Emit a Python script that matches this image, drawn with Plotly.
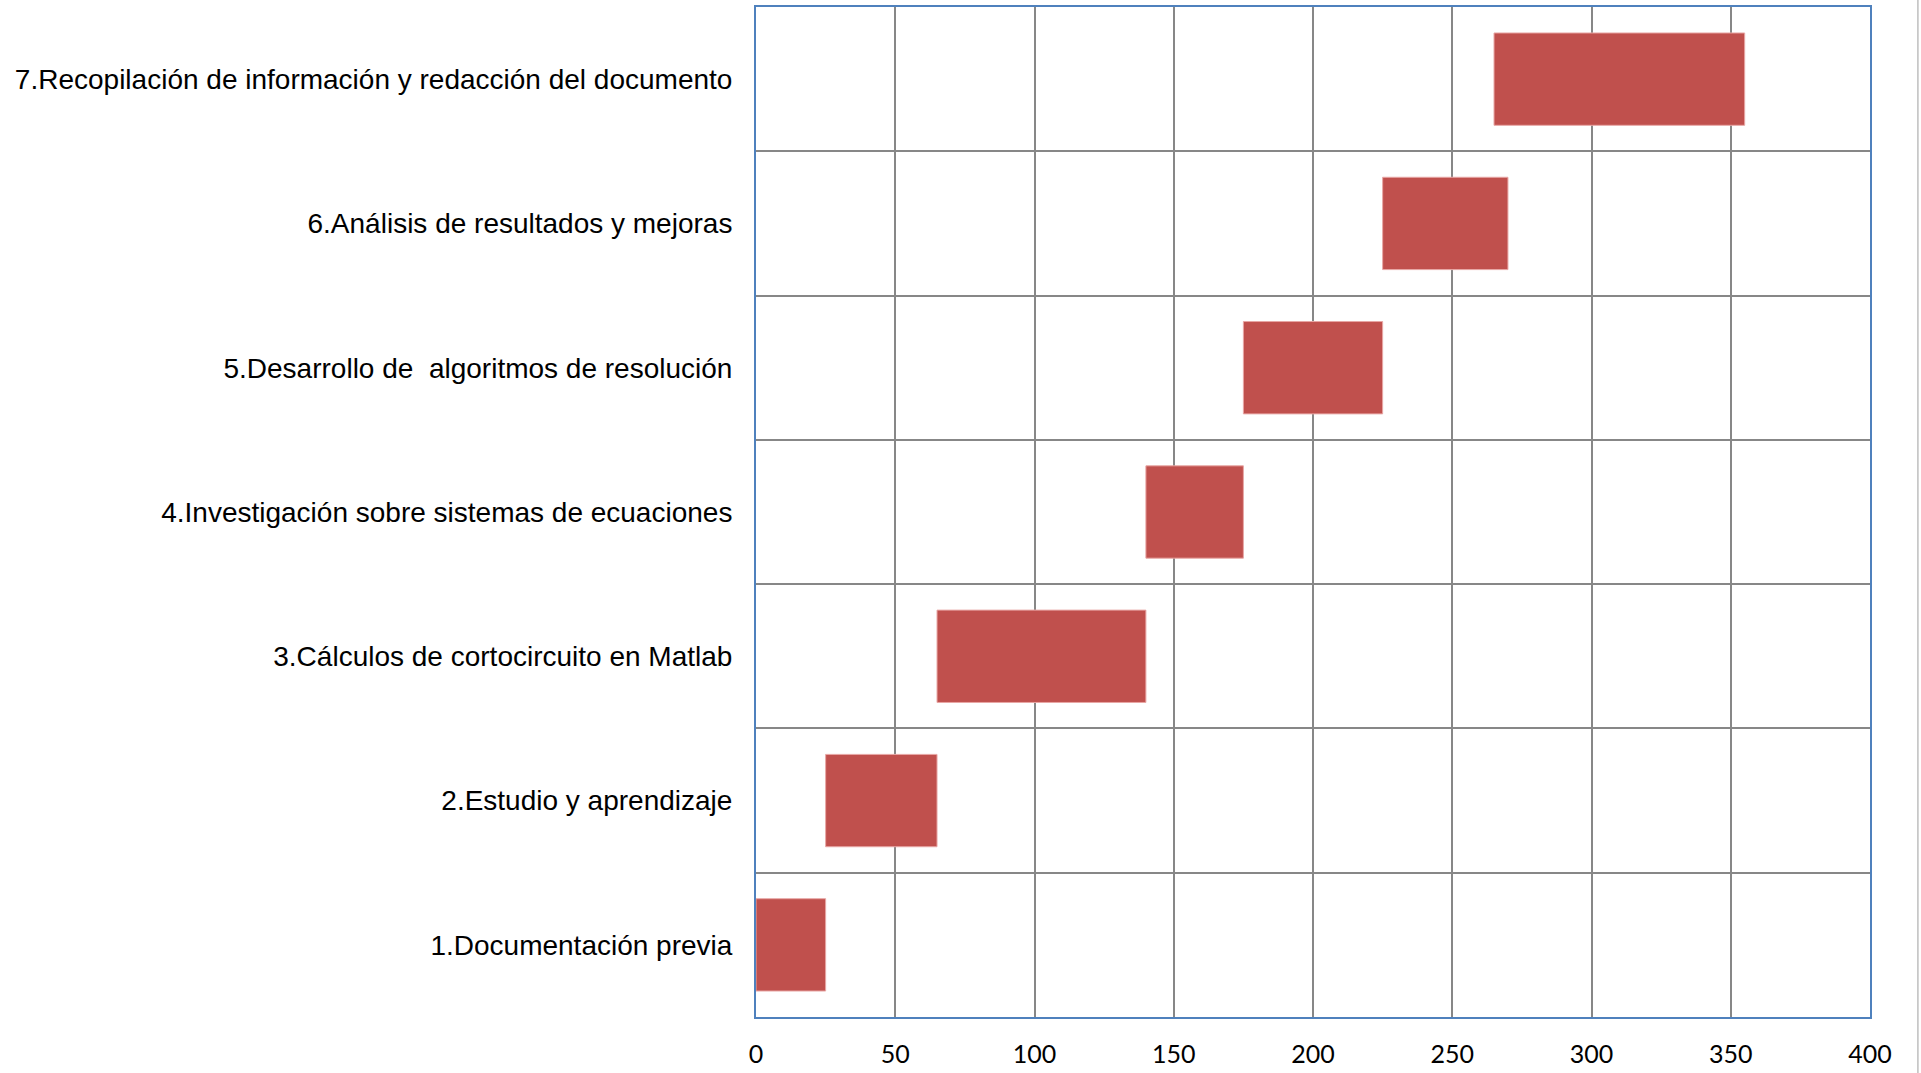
import plotly.graph_objects as go

# Project schedule (days)
tasks = [
    "1.Documentación previa",
    "2.Estudio y aprendizaje",
    "3.Cálculos de cortocircuito en Matlab",
    "4.Investigación sobre sistemas de ecuaciones",
    "5.Desarrollo de  algoritmos de resolución",
    "6.Análisis de resultados y mejoras",
    "7.Recopilación de información y redacción del documento",
]
start_day = [0, 25, 65, 140, 175, 225, 265]
duration = [25, 40, 75, 35, 50, 45, 90]
x_ticks = [0, 50, 100, 150, 200, 250, 300, 350, 400]

fig = go.Figure(
    go.Bar(
        y=tasks,
        x=duration,
        base=start_day,
        orientation="h",
        width=0.64,
        marker=dict(color="#C0504D", line=dict(color="#E8A7A5", width=1)),
        hoverinfo="skip",
    )
)

fig.update_layout(
    width=1921,
    height=1073,
    margin=dict(l=756, r=51, t=7, b=56),
    paper_bgcolor="white",
    plot_bgcolor="white",
    showlegend=False,
    xaxis=dict(
        range=[0, 400],
        tickvals=x_ticks,
        automargin=False,
        showgrid=True,
        gridcolor="#878787",
        gridwidth=2,
        zeroline=False,
        showline=True,
        linecolor="#4F81BD",
        linewidth=2,
        mirror=True,
        ticks="outside",
        ticklen=14,
        tickcolor="rgba(0,0,0,0)",
        tickfont=dict(family="Lato, Open Sans, sans-serif", size=25, color="#000000"),
    ),
    yaxis=dict(
        type="category",
        categoryorder="array",
        categoryarray=tasks,
        tickson="boundaries",
        automargin=False,
        showgrid=True,
        gridcolor="#878787",
        gridwidth=2,
        zeroline=False,
        showline=True,
        linecolor="#4F81BD",
        linewidth=2,
        mirror=True,
        ticks="",
        ticklabelstandoff=16,
        tickfont=dict(family="Liberation Sans, Arial, sans-serif", size=28, color="#000000"),
    ),
    shapes=[
        dict(
            type="line", xref="paper", yref="paper",
            x0=1.043, x1=1.043, y0=-0.06, y1=1.01,
            line=dict(color="#BFBFBF", width=1.5),
        )
    ],
)

fig.write_html("out.html")
